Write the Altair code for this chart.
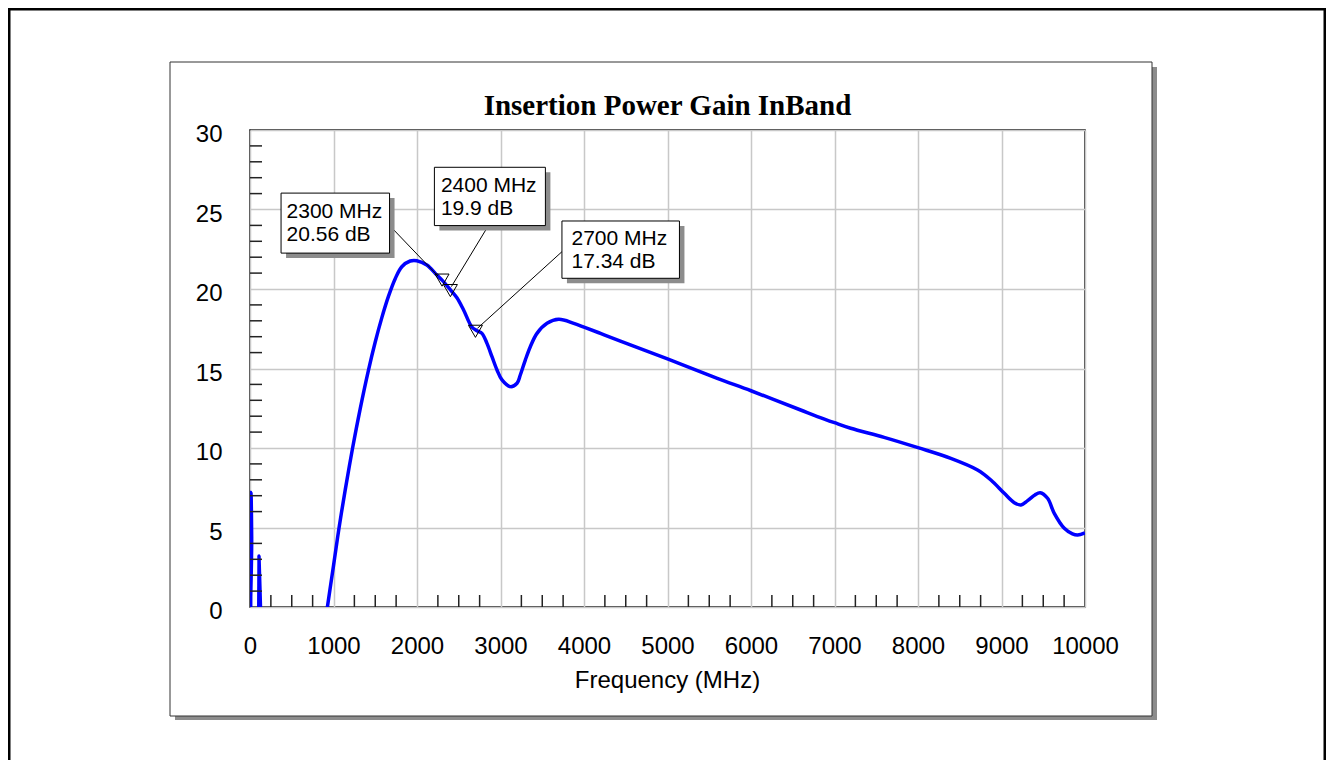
import altair as alt
import pandas as pd

# ---------------- data ----------------
freq_mhz = [5, 12, 20, 35, 95, 108, 120, 300, 600, 800, 870, 927, 1000, 1067, 1140,
            1227, 1319, 1419, 1499, 1579, 1659, 1739, 1818, 1918, 1998, 2118, 2238,
            2300, 2400, 2478, 2558, 2658, 2718, 2778, 2838, 2898, 2958, 3018,
            3118, 3198, 3237, 3297, 3357, 3437, 3557, 3697, 3877, 4000, 4197, 4436,
            5000, 5596, 6000, 6595, 6795, 7000, 7194, 7594, 8000, 8393, 8713, 8873,
            9033, 9153, 9233, 9313, 9400, 9464, 9552, 9632, 9752, 9850, 9912,
            10000]
gain_db = [-15, 7.2, 4.4, -15, -15, 3.2, -15, -30, -20, -5, -2.2, 0, 2.6, 5, 7.35,
           9.95, 12.45, 14.9, 16.65, 18.2, 19.55, 20.65, 21.4, 21.76, 21.78, 21.51, 20.88,
           20.56, 19.95, 19.45, 18.68, 17.6, 17.38, 17.21, 16.58, 15.74, 14.91, 14.28,
           13.86, 14.07, 14.59, 15.53, 16.37, 17.21, 17.84, 18.09, 17.84, 17.6, 17.21, 16.72,
           15.6, 14.38, 13.6, 12.39, 11.98, 11.59, 11.24, 10.67, 10.02, 9.35, 8.62, 7.99,
           7.15, 6.56, 6.42, 6.69, 7.05, 7.19, 6.84, 5.89, 4.95, 4.6, 4.53,
           4.66]

marker_freq = [2300, 2400, 2700]
marker_gain = [20.56, 19.9, 17.34]
marker_text = [["2300 MHz", "20.56 dB"], ["2400 MHz", "19.9 dB"], ["2700 MHz", "17.34 dB"]]

x_ticks = list(range(0, 10001, 1000))
y_ticks = list(range(0, 31, 5))
x_minor = [v for v in range(250, 10000, 250) if v % 1000 != 0]
y_minor = [v for v in range(1, 30) if v % 5 != 0]

title_text = "Insertion Power Gain InBand"
x_title = "Frequency (MHz)"

# ---------------- styling ----------------
W, H = 835, 477
PAD = {"left": 242, "top": 122, "right": 241, "bottom": 153}
FONT = "Liberation Sans"
GRID = "#c8c8c8"

xs = alt.Scale(domain=[0, 10000], nice=False, zero=False)
ys = alt.Scale(domain=[0, 30], nice=False, zero=False)
x_axis = alt.Axis(values=x_ticks, title=None, format="d", grid=True, gridColor=GRID,
                  gridWidth=1.5, ticks=False, tickSize=0, domain=False, labelFont=FONT,
                  labelFontSize=24, labelColor="black", labelPadding=46,
                  labelBaseline="alphabetic", labelFlush=False, labelOverlap=False)
y_axis = alt.Axis(values=y_ticks, title=None, format="d", grid=True, gridColor=GRID,
                  gridWidth=1.5, ticks=False, tickSize=0, domain=False, labelFont=FONT,
                  labelFontSize=24, labelColor="black", labelPadding=28,
                  labelBaseline="alphabetic", labelOffset=11.5, labelFlush=False,
                  labelOverlap=False)

X = alt.X("freq:Q", scale=xs, axis=x_axis)
Y = alt.Y("gain:Q", scale=ys, axis=y_axis)

one = alt.Data(values=[{"k": 0}])

layers = []

# outer page border, kept just inside the drawing surface
bw = 2.5
layers.append(alt.Chart(one).mark_rect(fill="transparent", stroke="black", strokeWidth=bw)
              .encode(x=alt.value(-PAD["left"] + bw / 2),
                      x2=alt.value(W + PAD["right"] - bw / 2),
                      y=alt.value(-PAD["top"] + bw / 2),
                      y2=alt.value(H + PAD["bottom"] + 20)))
# chart frame shadow (right and bottom strips)
layers.append(alt.Chart(one).mark_rect(color="#8c8c8c")
              .encode(x=alt.value(902), x2=alt.value(907), y=alt.value(-63), y2=alt.value(590)))
layers.append(alt.Chart(one).mark_rect(color="#8c8c8c")
              .encode(x=alt.value(-75), x2=alt.value(907), y=alt.value(586), y2=alt.value(590)))
# chart frame
layers.append(alt.Chart(one).mark_rect(fill="transparent", stroke="#333333", strokeWidth=1)
              .encode(x=alt.value(-80), x2=alt.value(902), y=alt.value(-68), y2=alt.value(586)))

# main curve
curve = pd.DataFrame({"freq": freq_mhz, "gain": gain_db})
layers.append(alt.Chart(curve).mark_line(color="#0000ff", strokeWidth=3.5, clip=True,
                                         interpolate="catmull-rom")
              .encode(x=X, y=Y))

# minor ticks pointing inward
xt = pd.DataFrame({"freq": x_minor})
layers.append(alt.Chart(xt).mark_rule(color="#222222", strokeWidth=1.5)
              .encode(x=X, y=alt.value(H), y2=alt.value(H - 12)))
yt = pd.DataFrame({"gain": y_minor})
layers.append(alt.Chart(yt).mark_rule(color="#222222", strokeWidth=1.5)
              .encode(y=Y, x=alt.value(0), x2=alt.value(12)))

# marker annotations: (box x0, x1, y0, y1), text offset, leader start, leader end (pixels)
ann_style = [
    ((-161, -52.5, -87, -27), (-155.5, -62), (-50, -52), (-4, -4)),
    ((-16, 95, -123.3, -65), (-9.5, -99), (38, -65), (1, -4)),
    ((86.5, 204, -110.3, -53), (96, -86.3), (86.5, -79.6), (2, -3)),
]
for f, g, txt, (box, toff, lstart, lend) in zip(marker_freq, marker_gain, marker_text, ann_style):
    d = pd.DataFrame({"freq": [f], "gain": [g]})
    base = alt.Chart(d)
    layers.append(base.mark_rule(color="black", strokeWidth=1,
                                 xOffset=lstart[0], yOffset=lstart[1],
                                 x2Offset=lend[0], y2Offset=lend[1])
                  .encode(x=X, y=Y, x2="freq:Q", y2="gain:Q"))
    layers.append(base.mark_rect(color="#8c8c8c",
                                 xOffset=box[0] + 5, x2Offset=box[1] + 5,
                                 yOffset=box[2] + 5, y2Offset=box[3] + 5)
                  .encode(x=X, y=Y, x2="freq:Q", y2="gain:Q"))
    layers.append(base.mark_rect(fill="white", stroke="black", strokeWidth=1,
                                 xOffset=box[0], x2Offset=box[1],
                                 yOffset=box[2], y2Offset=box[3])
                  .encode(x=X, y=Y, x2="freq:Q", y2="gain:Q"))
    layers.append(base.mark_text(text=txt, align="left", baseline="alphabetic",
                                 dx=toff[0], dy=toff[1], fontSize=21, lineHeight=23.3,
                                 font=FONT, color="black")
                  .encode(x=X, y=Y))
    layers.append(base.mark_point(shape="triangle-down", size=196, filled=False,
                                  stroke="black", strokeWidth=1, opacity=1)
                  .encode(x=X, y=Y))

# titles
layers.append(alt.Chart(one).mark_text(text=title_text, font="Liberation Serif", fontSize=29,
                                       fontWeight="bold", align="center", baseline="alphabetic",
                                       color="black")
              .encode(x=alt.value(W / 2), y=alt.value(-15)))
layers.append(alt.Chart(one).mark_text(text=x_title, font=FONT, fontSize=24,
                                       align="center", baseline="alphabetic", color="black")
              .encode(x=alt.value(W / 2), y=alt.value(H + 81)))

chart = alt.layer(*layers).properties(
    width=W, height=H,
    autosize=alt.AutoSizeParams(type="none"),
    padding=PAD,
    background="white",
).configure_view(stroke="black", strokeWidth=1.5)

chart.save("out.html", embed_options={"renderer": "svg", "actions": False})
